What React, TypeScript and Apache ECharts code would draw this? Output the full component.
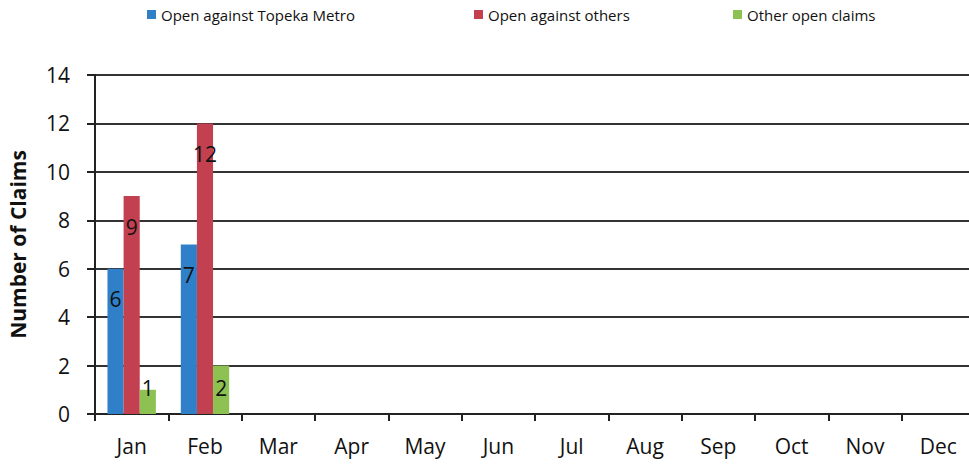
import React, { useEffect, useRef } from "react";
import * as echarts from "echarts";

const months = ["Jan", "Feb", "Mar", "Apr", "May", "Jun", "Jul", "Aug", "Sep", "Oct", "Nov", "Dec"];
const topekaMetro = [6, 7, null, null, null, null, null, null, null, null, null, null];
const againstOthers = [9, 12, null, null, null, null, null, null, null, null, null, null];
const otherOpen = [1, 2, null, null, null, null, null, null, null, null, null, null];
const seriesNames = ["Open against Topeka Metro", "Open against others", "Other open claims"];
const colors = ["#2f80c8", "#c2404f", "#8dc152"];

const FONT = "Open Sans";

function toData(arr: (number | null)[]) {
  return arr.map((v) => {
    if (v == null) return null;
    if (v <= 2) {
      return { value: v, label: { position: "insideBottom", distance: 16 } };
    }
    return { value: v };
  });
}

export default function App() {
  const ref = useRef<HTMLDivElement>(null);
  useEffect(() => {
    if (!ref.current) return;
    const chart = echarts.init(ref.current, null, { renderer: "svg" });
    const legendPos = [142, 469, 728];
    const all = [topekaMetro, againstOthers, otherOpen];
    chart.setOption({
      animation: false,
      backgroundColor: "#ffffff",
      legend: seriesNames.map((n, i) => ({
        data: [n],
        left: legendPos[i],
        top: 2,
        itemWidth: 9,
        itemHeight: 9,
        itemGap: 4,
        icon: "rect",
        textStyle: { fontFamily: FONT, fontSize: 15, color: "#111" },
      })),
      grid: { left: 95, top: 75, bottom: 51, width: 880, containLabel: false, outerBoundsMode: "none" },
      xAxis: {
        type: "category",
        data: months,
        axisLine: { lineStyle: { color: "#222", width: 2 } },
        axisTick: { show: true, length: 7, lineStyle: { color: "#222", width: 2 } },
        axisLabel: { fontFamily: FONT, fontSize: 21, color: "#111", margin: 21 },
      },
      yAxis: {
        type: "value",
        min: 0,
        max: 14,
        interval: 2,
        name: "Number of Claims",
        nameLocation: "middle",
        nameGap: 67,
        nameTextStyle: { fontFamily: FONT, fontSize: 21, fontWeight: "bold", color: "#111" },
        axisLine: { show: true, lineStyle: { color: "#222", width: 2 } },
        axisTick: { show: true, length: 8, lineStyle: { color: "#222", width: 2 } },
        axisLabel: { fontFamily: FONT, fontSize: 21, color: "#111", margin: 25 },
        splitLine: { lineStyle: { color: "#333", width: 2 } },
      },
      series: all.map((arr, i) => ({
        name: seriesNames[i],
        type: "bar",
        data: toData(arr),
        barGap: "0%",
        barCategoryGap: "34%",
        itemStyle: { color: colors[i] },
        label: {
          show: true,
          position: "insideTop",
          distance: 20,
          fontFamily: FONT,
          fontSize: 21,
          color: "#111",
        },
      })),
    });
    return () => chart.dispose();
  }, []);
  return (
    <div
      ref={ref}
      style={{ position: "fixed", left: 0, top: 0, width: 969, height: 465 }}
    />
  );
}
